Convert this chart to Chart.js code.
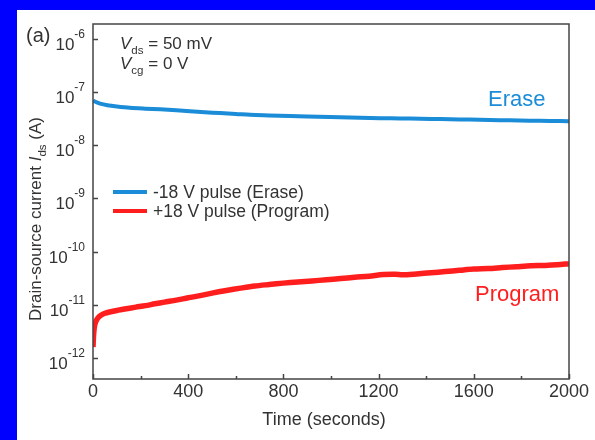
<!DOCTYPE html>
<html>
<head>
<meta charset="utf-8">
<script src="https://cdn.jsdelivr.net/npm/chart.js@4/dist/chart.umd.min.js"></script>
<style>
  html, body { margin: 0; padding: 0; background: #0000ff; }
  body { width: 595px; height: 440px; position: relative; overflow: hidden; }
  #panel { position: absolute; left: 17px; top: 10px; width: 578px; height: 430px; background: #ffffff; }
  #chart { display: block; }
</style>
</head>
<body>
<div id="panel"><canvas id="chart" width="578" height="430"></canvas></div>
<script>
// retention data: time in seconds, drain-source current in amperes
const eraseTime = [0, 10, 30, 60, 100, 155, 220, 282, 350, 408, 470, 534, 600, 660, 740, 828, 900, 996,
    1080, 1164, 1250, 1332, 1420, 1500, 1580, 1668, 1750, 1836, 1920, 2000];
const eraseCurrent = [7.0e-8, 6.6e-8, 6.1e-8, 5.7e-8, 5.4e-8, 5.1e-8, 4.9e-8, 4.75e-8, 4.55e-8, 4.4e-8,
    4.2e-8, 4.05e-8, 3.9e-8, 3.75e-8, 3.65e-8, 3.55e-8, 3.5e-8, 3.42e-8, 3.35e-8, 3.27e-8, 3.22e-8,
    3.18e-8, 3.13e-8, 3.1e-8, 3.05e-8, 3.0e-8, 2.95e-8, 2.9e-8, 2.88e-8, 2.85e-8];

const programTime = [0, 2, 5, 10, 20, 35, 50, 70, 100, 140, 180, 220, 260, 300, 350, 400, 450, 500,
    560, 620, 680, 740, 800, 860, 920, 980, 1040, 1100, 1160, 1220, 1270, 1300, 1360, 1420, 1480,
    1540, 1600, 1660, 1720, 1780, 1840, 1900, 1950, 2000];
const programCurrent = [1.6e-12, 2.5e-12, 3.6e-12, 4.6e-12, 5.6e-12, 6.4e-12, 6.9e-12, 7.3e-12, 7.8e-12,
    8.4e-12, 9.0e-12, 9.6e-12, 1.04e-11, 1.12e-11, 1.22e-11, 1.35e-11, 1.48e-11, 1.65e-11, 1.85e-11,
    2.05e-11, 2.25e-11, 2.4e-11, 2.55e-11, 2.68e-11, 2.8e-11, 2.95e-11, 3.1e-11, 3.28e-11, 3.45e-11,
    3.7e-11, 3.75e-11, 3.65e-11, 3.8e-11, 4.0e-11, 4.2e-11, 4.45e-11, 4.7e-11, 4.8e-11, 5.0e-11,
    5.2e-11, 5.4e-11, 5.5e-11, 5.65e-11, 5.9e-11];

const xTicks = [0, 400, 800, 1200, 1600, 2000];
const xMinorTicks = [200, 600, 1000, 1400, 1800];
const yExponents = [-6, -7, -8, -9, -10, -11, -12];

const BLUE = "#1a8cd8";
const RED = "#ff1e1e";
const INK = "#333333";
const FONT = "'Liberation Sans', Arial, sans-serif";

function toPoints(xs, ys) {
    return xs.map((x, i) => ({ x: x, y: ys[i] }));
}

// text run with italic / subscript pieces
function drawRich(ctx, parts, x, y, size) {
    let cx = x;
    parts.forEach(p => {
        const s = p.sub ? size * 0.68 : size;
        ctx.font = (p.italic ? "italic " : "") + s + "px " + FONT;
        const dy = p.sub ? size * 0.3 : 0;
        ctx.fillText(p.t, cx, y + dy);
        cx += ctx.measureText(p.t).width;
    });
}

const decorations = {
    id: "decorations",
    afterDraw(chart) {
        const ctx = chart.ctx;
        const area = chart.chartArea;
        const xs = chart.scales.x;
        const ys = chart.scales.y;
        ctx.save();

        // frame
        ctx.strokeStyle = "#444444";
        ctx.lineWidth = 1.5;
        ctx.strokeRect(area.left, area.top, area.right - area.left, area.bottom - area.top);

        // inward ticks
        ctx.beginPath();
        yExponents.forEach(e => {
            const py = Math.round(ys.getPixelForValue(Math.pow(10, e))) + 0.5;
            ctx.moveTo(area.left, py);
            ctx.lineTo(area.left + 5, py);
        });
        xTicks.forEach(v => {
            const px = Math.round(xs.getPixelForValue(v)) + 0.5;
            ctx.moveTo(px, area.bottom);
            ctx.lineTo(px, area.bottom - 5);
        });
        xMinorTicks.forEach(v => {
            const px = Math.round(xs.getPixelForValue(v)) + 0.5;
            ctx.moveTo(px, area.bottom);
            ctx.lineTo(px, area.bottom - 3);
        });
        ctx.stroke();

        ctx.fillStyle = INK;

        // x tick labels
        ctx.font = "18px " + FONT;
        ctx.textAlign = "center";
        ctx.textBaseline = "middle";
        xTicks.forEach(v => {
            ctx.fillText(String(v), xs.getPixelForValue(v), area.bottom + 13);
        });
        ctx.fillText("Time (seconds)", 307, 410);

        // y tick labels as powers of ten
        ctx.textAlign = "left";
        ctx.textBaseline = "alphabetic";
        yExponents.forEach(e => {
            const py = ys.getPixelForValue(Math.pow(10, e));
            ctx.font = "17px " + FONT;
            const wb = ctx.measureText("10").width;
            ctx.font = "12px " + FONT;
            const sup = String(e);
            const ws = ctx.measureText(sup).width;
            const right = area.left - 8;
            ctx.font = "17px " + FONT;
            ctx.fillText("10", right - ws - wb, py + 11);
            ctx.font = "12px " + FONT;
            ctx.fillText(sup, right - ws, py - 1);
        });

        // panel label
        ctx.font = "20px " + FONT;
        ctx.fillText("(a)", 9, 32);

        // y axis title, rotated
        ctx.save();
        ctx.translate(18, 209);
        ctx.rotate(-Math.PI / 2);
        ctx.textAlign = "left";
        const title = [
            { t: "Drain-source current " },
            { t: "I", italic: true },
            { t: "ds", sub: true },
            { t: " (A)" }
        ];
        let tw = 0;
        title.forEach(p => {
            ctx.font = (p.italic ? "italic " : "") + (p.sub ? 17 * 0.68 : 17) + "px " + FONT;
            tw += ctx.measureText(p.t).width;
        });
        drawRich(ctx, title, -tw / 2, 6, 17);
        ctx.restore();

        // bias conditions
        drawRich(ctx, [{ t: "V", italic: true }, { t: "ds", sub: true }, { t: " = 50 mV" }], 103, 39, 17);
        drawRich(ctx, [{ t: "V", italic: true }, { t: "cg", sub: true }, { t: " = 0 V" }], 103, 59, 17);

        // legend
        const legend = [
            { color: BLUE, text: "-18 V pulse (Erase)", y: 182 },
            { color: RED, text: "+18 V pulse (Program)", y: 201 }
        ];
        legend.forEach(item => {
            ctx.strokeStyle = item.color;
            ctx.lineWidth = 4;
            ctx.beginPath();
            ctx.moveTo(96, item.y);
            ctx.lineTo(130, item.y);
            ctx.stroke();
            ctx.fillStyle = INK;
            ctx.font = "17.5px " + FONT;
            ctx.textBaseline = "middle";
            ctx.fillText(item.text, 136, item.y + 1);
        });

        // curve labels
        ctx.textBaseline = "middle";
        ctx.font = "22px " + FONT;
        ctx.fillStyle = BLUE;
        ctx.fillText("Erase", 471, 90);
        ctx.fillStyle = RED;
        ctx.fillText("Program", 458, 285);

        ctx.restore();
    }
};

new Chart(document.getElementById("chart"), {
    type: "line",

    data: {
        datasets: [
            {
                label: "-18 V pulse (Erase)",
                data: toPoints(eraseTime, eraseCurrent),
                borderColor: BLUE,
                borderWidth: 4,
                pointRadius: 0,
                tension: 0.3
            },
            {
                label: "+18 V pulse (Program)",
                data: toPoints(programTime, programCurrent),
                borderColor: RED,
                borderWidth: 5.5,
                pointRadius: 0,
                tension: 0.3
            }
        ]
    },

    options: {
        responsive: false,
        animation: false,
        events: [],
        layout: {
            padding: { left: 76, top: 14, right: 26, bottom: 61 }
        },
        plugins: {
            legend: { display: false },
            tooltip: { enabled: false }
        },
        scales: {
            x: {
                type: "linear",
                min: 0,
                max: 2000,
                display: false
            },
            y: {
                type: "logarithmic",
                min: 4e-13,
                max: 1.92e-6,
                display: false
            }
        }
    },

    plugins: [decorations]
});
</script>
</body>
</html>
